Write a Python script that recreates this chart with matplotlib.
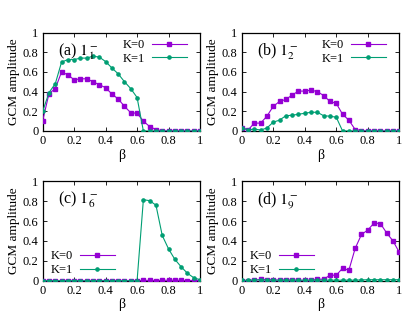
import numpy as np
import matplotlib
matplotlib.use("Agg")
import matplotlib.pyplot as plt

plt.rcParams['font.family'] = ['Liberation Serif', 'DejaVu Serif']
plt.rcParams['mathtext.fontset'] = 'stix'

beta = np.round(np.arange(0, 1.0001, 0.04), 2)

# (a) 1_1^-
a_k0 = [0.105, 0.38, 0.43, 0.60, 0.57, 0.52, 0.53, 0.53, 0.50, 0.47, 0.44, 0.375, 0.325,
        0.25, 0.185, 0.18, 0.10, 0.045, 0.015, 0, 0, 0, 0, 0, 0, 0]
a_k1 = [0.20, 0.39, 0.48, 0.70, 0.725, 0.725, 0.74, 0.74, 0.76, 0.75, 0.705, 0.64, 0.58,
        0.50, 0.43, 0.34, 0, 0, 0, 0, 0, 0, 0, 0, 0, 0]
# (b) 1_2^-
b_k0 = [0.035, 0.01, 0.08, 0.08, 0.15, 0.25, 0.30, 0.32, 0.365, 0.405, 0.405, 0.415, 0.40,
        0.36, 0.30, 0.28, 0.17, 0.11, 0.015, 0.005, 0, 0, 0, 0, 0, 0]
b_k1 = [0.035, 0.01, 0.02, 0.01, 0.03, 0.09, 0.11, 0.155, 0.16, 0.17, 0.18, 0.19, 0.19,
        0.155, 0.15, 0.14, 0, 0, 0, 0, 0, 0, 0, 0, 0, 0]
# (c) 1_6^-
c_k0 = [0, 0, 0, 0, 0, 0, 0, 0, 0, 0, 0, 0, 0, 0, 0, 0, 0.003, 0.003, 0.002, 0.003, 0.005,
        0.004, 0.003, 0.002, 0.002, 0.002]
c_k1 = [0, 0, 0, 0, 0, 0, 0, 0, 0, 0, 0, 0, 0, 0, 0, 0, 0.815, 0.805, 0.76, 0.455, 0.32,
        0.215, 0.14, 0.075, 0.03, 0.01]
# (d) 1_9^-
d_k0 = [0, 0, 0.005, 0.013, 0.01, 0.008, 0.005, 0.008, 0.005, 0.003, 0.003, 0.003, 0.015,
        0.015, 0.055, 0.055, 0.125, 0.105, 0.325, 0.465, 0.51, 0.58, 0.575, 0.48, 0.40, 0.285]
d_k1 = [0.003, 0.003, 0.008, 0.008, 0.008, 0.005, 0.005, 0.005, 0.005, 0.005, 0.005, 0.005,
        0.005, 0.005, 0.005, 0.005, 0.005, 0.005, 0.005, 0.008, 0.01, 0.01, 0.01, 0.01, 0.01,
        0.01]

# label, K=0, K=1, legend anchor (upper right corner of legend, axes coords)
panels = [
    ("(a) $1^-_1$", a_k0, a_k1, (0.915, 0.935)),
    ("(b) $1^-_2$", b_k0, b_k1, (0.913, 0.935)),
    ("(c) $1^-_6$", c_k0, c_k1, (0.457, 0.305)),
    ("(d) $1^-_9$", d_k0, d_k1, (0.458, 0.305)),
]

W, H = 415, 336
fig = plt.figure(figsize=(W / 100, H / 100), dpi=100)

# axes boxes in pixels: left, top, right, bottom
boxes = [(42.7, 32.5, 200, 131), (241.7, 32.5, 399.3, 131),
         (42.7, 181.3, 200, 280.7), (241.7, 181.3, 399.3, 280.7)]

purple = '#9400d3'
green = '#009e73'
ticks = [0, 0.2, 0.4, 0.6, 0.8, 1]
tick_labels = ['0', '0.2', '0.4', '0.6', '0.8', '1']

for (label, k0, k1, anchor), (l, t, r, b) in zip(panels, boxes):
    ax = fig.add_axes([l / W, 1 - b / H, (r - l) / W, (b - t) / H])
    ax.plot(beta, k0, color=purple, lw=0.8, marker='s', ms=2.4, label='K=0', zorder=3)
    ax.plot(beta, k1, color=green, lw=0.8, marker='o', ms=2.3, label='K=1', zorder=3)
    ax.set_xlim(0, 1)
    ax.set_ylim(0, 1)
    ax.set_xticks(ticks)
    ax.set_xticklabels(tick_labels)
    ax.set_yticks(ticks)
    ax.set_yticklabels(tick_labels)
    ax.tick_params(direction='in', top=True, right=True, labelsize=9, length=3,
                   width=0.6, pad=3)
    for s in ax.spines.values():
        s.set_linewidth(0.9)
    ax.set_xlabel('β', fontsize=10, labelpad=1)
    ax.set_ylabel('GCM amplitude', fontsize=9.5, labelpad=2)
    ax.text(0.095, 0.91, label, transform=ax.transAxes, fontsize=11.5, va='top', ha='left')
    ax.legend(loc='upper right', bbox_to_anchor=anchor, frameon=False,
              fontsize=9, handlelength=2.8, handletextpad=0.55,
              labelspacing=0.13, markerfirst=False, borderaxespad=0, borderpad=0)

fig.savefig('out.png', dpi=100)
